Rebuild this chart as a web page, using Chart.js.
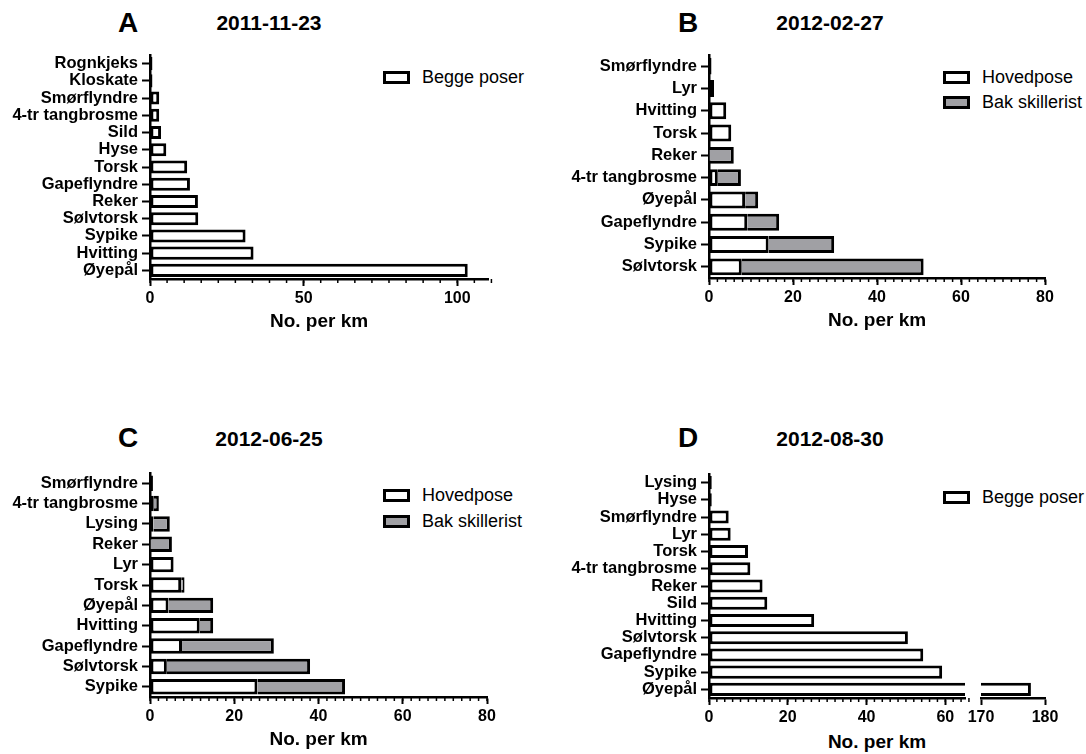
<!DOCTYPE html>
<html>
<head>
<meta charset="utf-8">
<script src="https://cdn.jsdelivr.net/npm/chart.js@4.4.0/dist/chart.umd.min.js"></script>
<style>
  body { margin: 0; background: #fff; width: 1086px; height: 754px; position: relative; overflow: hidden;
         font-family: "Liberation Sans", Arial, sans-serif; color: #000; }
  canvas { position: absolute; }
  .letter { position: absolute; font-weight: bold; font-size: 28px; line-height: 28px; transform: translate(-50%, -50%); }
  .date { position: absolute; font-weight: bold; font-size: 21px; line-height: 21px; transform: translate(-50%, -50%); white-space: nowrap; }
  .axt { position: absolute; font-weight: bold; font-size: 19px; line-height: 19px; transform: translate(-50%, -50%); white-space: nowrap; }
  .leg { position: absolute; height: 26px; display: flex; align-items: center; font-size: 18px; white-space: nowrap; }
  .leg .box { box-sizing: border-box; width: 27px; height: 13px; border: 3px solid #000; margin-right: 12px; }
</style>
</head>
<body>

<div class="letter" style="left:128px; top:23px;">A</div>
<div class="date" style="left:269px; top:22px;">2011-11-23</div>
<div class="letter" style="left:688px; top:23px;">B</div>
<div class="date" style="left:830px; top:22px;">2012-02-27</div>
<div class="letter" style="left:128px; top:438px;">C</div>
<div class="date" style="left:269px; top:438px;">2012-06-25</div>
<div class="letter" style="left:688px; top:438px;">D</div>
<div class="date" style="left:830px; top:438px;">2012-08-30</div>

<div class="leg" style="left:383px; top:64px;"><span class="box" style="background:#fff"></span>Begge poser</div>
<div class="leg" style="left:943px; top:64px;"><span class="box" style="background:#fff"></span>Hovedpose</div>
<div class="leg" style="left:943px; top:89px;"><span class="box" style="background:#a0a0a4"></span>Bak skillerist</div>
<div class="leg" style="left:383px; top:482px;"><span class="box" style="background:#fff"></span>Hovedpose</div>
<div class="leg" style="left:383px; top:508px;"><span class="box" style="background:#a0a0a4"></span>Bak skillerist</div>
<div class="leg" style="left:943px; top:484px;"><span class="box" style="background:#fff"></span>Begge poser</div>
<div class="axt" style="left:877px; top:741px;">No. per km</div>

<canvas id="chartA" width="508" height="294" style="left:0px; top:39px;"></canvas>
<canvas id="chartB" width="506" height="293" style="left:559px; top:39px;"></canvas>
<canvas id="chartC" width="507" height="294" style="left:0px; top:457px;"></canvas>
<canvas id="chartD1" width="416" height="294" style="left:559px; top:458px;"></canvas>
<canvas id="chartD2" width="104" height="294" style="left:961px; top:458px;"></canvas>

<script>
// A: 2011-11-23, both bags together
const catsA = ['Rognkjeks', 'Kloskate', 'Smørflyndre', '4-tr tangbrosme', 'Sild', 'Hyse', 'Torsk',
               'Gapeflyndre', 'Reker', 'Sølvtorsk', 'Sypike', 'Hvitting', 'Øyepål'];
const beggeA = [0.8, 0.8, 3.0, 3.0, 3.6, 5.3, 12.1, 13.0, 15.6, 15.7, 31.1, 33.7, 103.4];

// B: 2012-02-27
const catsB = ['Smørflyndre', 'Lyr', 'Hvitting', 'Torsk', 'Reker', '4-tr tangbrosme', 'Øyepål',
               'Gapeflyndre', 'Sypike', 'Sølvtorsk'];
const hovedB = [0.6, 1.2, 4.1, 5.3, 0, 2.1, 8.6, 9.1, 14.2, 7.8];
const bakB   = [0, 0, 0, 0, 5.9, 5.5, 3.1, 7.6, 15.6, 43.3];

// C: 2012-06-25
const catsC = ['Smørflyndre', '4-tr tangbrosme', 'Lysing', 'Reker', 'Lyr', 'Torsk', 'Øyepål',
               'Hvitting', 'Gapeflyndre', 'Sølvtorsk', 'Sypike'];
const hovedC = [0.7, 0.9, 0.8, 0, 5.6, 7.4, 4.4, 11.8, 7.6, 4.0, 25.5];
const bakC   = [0, 1.2, 3.9, 5.2, 0, 0.8, 10.6, 3.2, 21.8, 34.0, 20.8];

// D: 2012-08-30, both bags together (broken axis 0-65 | 170-180)
const catsD = ['Lysing', 'Hyse', 'Smørflyndre', 'Lyr', 'Torsk', '4-tr tangbrosme', 'Reker', 'Sild',
               'Hvitting', 'Sølvtorsk', 'Gapeflyndre', 'Sypike', 'Øyepål'];
const beggeD = [0.7, 0.7, 5.0, 5.5, 9.9, 10.5, 13.6, 14.8, 26.7, 50.5, 54.4, 59.2, 177.8];

const GREY = '#a0a0a4';

Chart.defaults.font.family = '"Liberation Sans", Arial, sans-serif';
Chart.defaults.color = '#000';

// small unlabelled ticks between the numbered ones
const minorTicks = {
    id: 'minorTicks',
    afterDraw(chart, args, opts) {
        if (!opts.step) return;
        const s = chart.scales.x;
        const ctx = chart.ctx;
        ctx.save();
        ctx.strokeStyle = '#000';
        ctx.lineWidth = 1.5;
        const n = Math.round((s.max - s.min) / opts.step);
        for (let i = 0; i <= n; i++) {
            const x = s.getPixelForValue(s.min + i * opts.step);
            ctx.beginPath();
            ctx.moveTo(x, s.top);
            ctx.lineTo(x, s.top + 4);
            ctx.stroke();
        }
        ctx.restore();
    }
};

function barSet(label, data, fill, skipped) {
    return {
        label: label,
        data: data.slice(),
        backgroundColor: fill,
        borderColor: '#000',
        borderWidth: 3,
        borderSkipped: skipped,
        barPercentage: 0.76,
        categoryPercentage: 1,
        clip: 0
    };
}

function makeOptions(cfg) {
    const showY = cfg.yDisplay !== false;
    const y = {
        type: 'category',
        stacked: true,
        display: showY,
        ticks: {
            autoSkip: false,
            padding: 4,
            color: '#000',
            font: { size: 16.5, weight: 'bold' }
        },
        grid: { drawOnChartArea: false, offset: false, tickLength: 8, tickWidth: 2, tickColor: '#000' },
        border: { display: true, color: '#000', width: 2.5 }
    };
    // fixed label column so the plot areas line up with the figure
    if (showY) y.afterFit = function (s) { s.width = 150; };

    return {
        indexAxis: 'y',
        responsive: false,
        animation: false,
        devicePixelRatio: 1,
        layout: { padding: { left: cfg.padLeft || 0, right: cfg.padRight || 0, top: 16, bottom: 0 } },
        plugins: {
            legend: { display: false },
            tooltip: { enabled: false },
            minorTicks: { step: cfg.minor }
        },
        scales: {
            x: {
                type: 'linear',
                stacked: true,
                min: cfg.min,
                max: cfg.max,
                afterFit: function (s) { s.height = 54; },
                ticks: {
                    stepSize: cfg.step,
                    includeBounds: false,
                    padding: 3,
                    maxRotation: 0,
                    color: '#000',
                    font: { size: 16, weight: 'bold' }
                },
                grid: { drawOnChartArea: false, tickLength: 7, tickWidth: 2, tickColor: '#000' },
                border: { display: true, color: '#000', width: 2.5 },
                title: {
                    display: cfg.title !== false,
                    text: 'No. per km',
                    color: '#000',
                    padding: 0,
                    font: { size: 19, weight: 'bold' }
                }
            },
            y: y
        }
    };
}

new Chart(document.getElementById('chartA'), {
    type: 'bar',
    data: { labels: catsA, datasets: [barSet('Begge poser', beggeA, '#fff', false)] },
    options: makeOptions({ min: 0, max: 110, step: 50, minor: 50 / 9, padRight: 20 }),
    plugins: [minorTicks]
});

new Chart(document.getElementById('chartB'), {
    type: 'bar',
    data: {
        labels: catsB,
        datasets: [barSet('Hovedpose', hovedB, '#fff', false), barSet('Bak skillerist', bakB, GREY, 'start')]
    },
    options: makeOptions({ min: 0, max: 80, step: 20, minor: 2, padRight: 20 }),
    plugins: [minorTicks]
});

new Chart(document.getElementById('chartC'), {
    type: 'bar',
    data: {
        labels: catsC,
        datasets: [barSet('Hovedpose', hovedC, '#fff', false), barSet('Bak skillerist', bakC, GREY, 'start')]
    },
    options: makeOptions({ min: 0, max: 80, step: 20, minor: 2, padRight: 20 }),
    plugins: [minorTicks]
});

// D is split in two charts to show the broken value axis
new Chart(document.getElementById('chartD1'), {
    type: 'bar',
    data: { labels: catsD.slice(), datasets: [barSet('Begge poser', beggeD, '#fff', false)] },
    options: makeOptions({ min: 0, max: 65, step: 20, minor: 2, padRight: 10, title: false }),
    plugins: [minorTicks]
});

new Chart(document.getElementById('chartD2'), {
    type: 'bar',
    data: { labels: catsD.slice(), datasets: [barSet('Begge poser', beggeD, '#fff', false)] },
    options: makeOptions({ min: 170, max: 180, step: 10, padLeft: 20, padRight: 20, title: false, yDisplay: false })
});
</script>
</body>
</html>
